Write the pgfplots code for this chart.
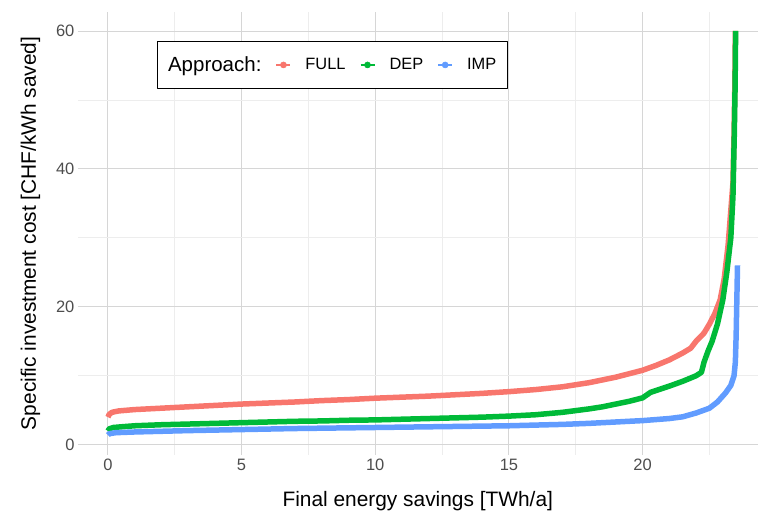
\documentclass[border=0pt]{standalone}
\usepackage{fontspec}
\setmainfont{Liberation Sans}
\usepackage{pgfplots}
\pgfplotsset{compat=1.18}
\definecolor{cfull}{HTML}{F8766D}
\definecolor{cdep}{HTML}{00BA38}
\definecolor{cimp}{HTML}{619CFF}
\definecolor{tickgray}{HTML}{4D4D4D}
\definecolor{gridmaj}{HTML}{D6D6D6}
\definecolor{gridmin}{HTML}{EDEDED}
\begin{document}
\begin{tikzpicture}
\begin{axis}[
  scale only axis,
  width=680pt, height=443pt,
  xmin=-1.12, xmax=24.3,
  ymin=-1.45, ymax=62.75,
  axis line style={draw=none},
  major tick style={draw=none}, minor tick style={draw=none},
  xtick={0,5,10,15,20}, ytick={0,20,40,60},
  minor xtick={2.5,7.5,12.5,17.5,22.5},
  minor ytick={10,30,50},
  grid=both,
  major grid style={gridmaj, line width=0.9pt},
  minor grid style={gridmin, line width=0.7pt},
  tick label style={font=\fontsize{16.5}{19}\selectfont, text=tickgray},
  /pgf/number format/assume math mode=true,
  xticklabel style={yshift=-1pt},
  xlabel={Final energy savings [TWh/a]},
  ylabel={Specific investment cost [CHF/kWh saved]},
  every axis x label/.style={at={(axis description cs:0.5,-0.1174)}, anchor=base,
    font=\fontsize{20.9}{24}\selectfont},
  every axis y label/.style={at={(axis description cs:-0.0618,0.5)}, anchor=base, rotate=90,
    font=\fontsize{20.9}{24}\selectfont},
  legend columns=-1,
  legend style={at={(0.116,0.9345)}, anchor=north west, draw=black, line width=0.6pt,
    font=\fontsize{16.4}{19}\selectfont, inner xsep=9pt, inner ysep=13.5pt,
    /tikz/every even column/.append style={column sep=12pt}},
  legend image code/.code={
    \path[draw=none] (0pt,0pt) -- (27pt,0pt);
    \draw[line width=2pt] (0pt,0pt) -- (14pt,0pt);
    \fill (7pt,0pt) circle (3pt);},
  line join=round,
]
\addlegendimage{empty legend}
\addlegendentry{\fontsize{20.5}{24}\selectfont Approach:}
\addlegendimage{cfull}
\addlegendentry{FULL}
\addlegendimage{cdep}
\addlegendentry{DEP}
\addlegendimage{cimp}
\addlegendentry{IMP}
\addplot[cfull, line width=5.5pt, forget plot] coordinates {
(0,4.0) (0.05,4.4) (0.15,4.7) (0.4,4.9) (1,5.1) (2,5.3) (3,5.5) (4,5.7) (5,5.9) (6,6.05) (7,6.2) (8,6.4) (9,6.55) (10,6.75) (11,6.9) (12,7.05) (13,7.25) (14,7.45) (15,7.7) (16,8.0) (17,8.4) (18,9.0) (18.5,9.4) (19,9.8) (19.5,10.3) (20,10.8) (20.5,11.5) (21,12.3) (21.5,13.3) (21.8,14) (22,15) (22.3,16.2) (22.5,17.5) (22.7,19) (22.9,21) (23.05,24) (23.2,29) (23.3,34) (23.38,38) (23.42,45) (23.45,52) (23.47,60)};
\addplot[cdep, line width=5.5pt, forget plot] coordinates {
(0,2.0) (0.05,2.3) (0.2,2.5) (0.5,2.6) (1,2.75) (2,2.9) (3,3.0) (4,3.1) (5,3.2) (6,3.3) (7,3.4) (8,3.45) (9,3.55) (10,3.6) (11,3.7) (12,3.8) (13,3.9) (14,4.0) (15,4.15) (16,4.35) (17,4.7) (18,5.2) (18.5,5.5) (19,5.9) (19.5,6.3) (20,6.8) (20.3,7.6) (21,8.5) (21.5,9.2) (22,10.0) (22.2,10.5) (22.3,12) (22.45,13.6) (22.6,15) (22.8,17.5) (23,21) (23.15,25) (23.3,30) (23.38,36) (23.43,45) (23.46,52) (23.48,60)};
\addplot[cimp, line width=5.5pt, forget plot] coordinates {
(0,1.4) (0.05,1.6) (0.3,1.75) (1,1.85) (2,1.95) (3,2.05) (5,2.2) (7,2.35) (10,2.5) (12,2.6) (15,2.75) (17,2.95) (18,3.1) (19,3.3) (20,3.5) (21,3.8) (21.5,4.05) (22,4.6) (22.5,5.3) (22.8,6.2) (23.1,7.5) (23.3,8.6) (23.42,10) (23.47,12) (23.5,16) (23.52,20) (23.55,26)};
\end{axis}
\path ([shift={(-78pt,-58pt)}]current axis.south west) rectangle ([shift={(0pt,12pt)}]current axis.north east);
\end{tikzpicture}
\end{document}
